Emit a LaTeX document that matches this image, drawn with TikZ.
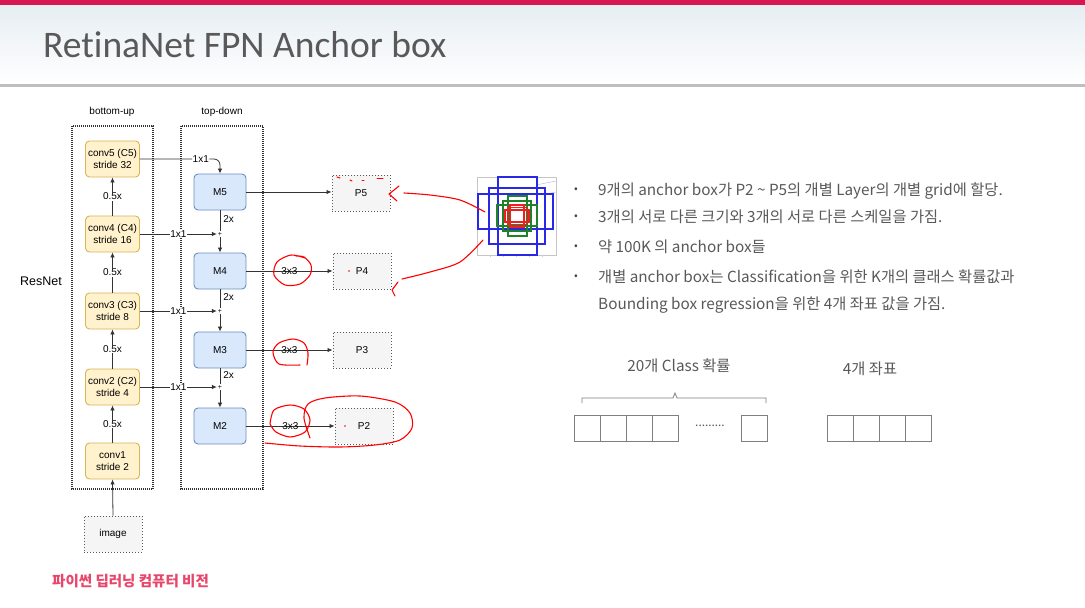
\documentclass[tikz,border=0pt]{standalone}
\usepackage{fontspec}
\setmainfont{Carlito}[Ligatures=CommonOff]
\newfontfamily\kr{Noto Sans CJK KR}
\newfontfamily\hv{Liberation Sans}
\usetikzlibrary{arrows.meta}
\definecolor{redbar}{RGB}{215,23,79}
\definecolor{hdrtop}{RGB}{230,238,242}
\definecolor{hline}{RGB}{191,191,191}
\definecolor{ttl}{RGB}{89,89,89}
\definecolor{cfill}{RGB}{255,242,204}
\definecolor{cdraw}{RGB}{214,182,86}
\definecolor{mfill}{RGB}{218,232,252}
\definecolor{mdraw}{RGB}{108,142,191}
\definecolor{pfill}{RGB}{245,245,245}
\definecolor{pdraw}{RGB}{90,90,90}
\definecolor{lnc}{RGB}{51,51,51}
\definecolor{pinkred}{RGB}{232,70,106}
\definecolor{sqc}{RGB}{127,127,127}
\definecolor{ablue}{RGB}{40,40,230}
\definecolor{agreen}{RGB}{30,130,40}
\definecolor{ared}{RGB}{240,30,30}
\begin{document}
\begin{tikzpicture}[x=1pt,y=-1pt,
  diag/.style={font=\hv\fontsize{10}{11.5}\selectfont},
  cbox/.style={diag,draw=cdraw,fill=cfill,rounded corners=4pt,line width=0.9pt,minimum width=54pt,minimum height=36pt,align=center,inner sep=1pt},
  mbox/.style={diag,draw=mdraw,fill=mfill,rounded corners=4pt,line width=0.9pt,minimum width=52pt,minimum height=36pt,inner sep=1pt},
  pbox/.style={diag,draw=pdraw,fill=pfill,dotted,line width=1pt,minimum width=58pt,minimum height=36pt,inner sep=1pt},
  grp/.style={draw=lnc,dash pattern=on 1pt off 1pt,line width=1.3pt},
  arr/.style={draw=lnc,line width=0.8pt,-{Latex[length=5pt,width=4.5pt]}},
  ln/.style={draw=lnc,line width=0.8pt},
  lbl/.style={diag,fill=white,inner sep=0.5pt},
  plus/.style={font=\hv\fontsize{7}{7}\selectfont,inner sep=0pt,minimum size=6pt},
  rd/.style={draw=red,line width=1.1pt,line cap=round,line join=round},
  krt/.style={font=\kr\fontsize{15.3}{18}\selectfont,text=ttl,anchor=base west,inner sep=0pt},
  sq/.style={draw=sqc,line width=1pt}
]
\useasboundingbox (0,0) rectangle (1085,608);
% header
\fill[white] (0,0) rectangle (1085,608);
\shade[top color=hdrtop,bottom color=white] (0,5) rectangle (1085,84);
\fill[redbar] (0,0) rectangle (1085,5);
\fill[hline] (0,84) rectangle (1085,87);
\node[anchor=base west,inner sep=0pt,text=ttl,font=\fontsize{37.5}{40}\selectfont] (title) at (43,57) {RetinaNet FPN Anchor box};

% group boxes
\draw[grp] (72,126) rectangle (153,489);
\draw[grp] (181,126) rectangle (263,489);
\node[diag] (bu) at (112,112) {bottom-up};
\node[diag] (td) at (222,112) {top-down};
\node[font=\hv\fontsize{12.5}{14}\selectfont] (resnet) at (41,281) {ResNet};

% bottom-up
\node[cbox] (c5) at (112.5,159) {conv5 (C5)\\stride 32};
\node[cbox] (c4) at (112.5,234) {conv4 (C4)\\stride 16};
\node[cbox] (c3) at (112.5,311) {conv3 (C3)\\stride 8};
\node[cbox] (c2) at (112.5,387) {conv2 (C2)\\stride 4};
\node[cbox] (c1) at (112.5,461) {conv1\\stride 2};
\node[pbox] (img) at (113,534) {image};
\draw[arr] (img.north) -- (c1.south);
\draw[arr] (c1.north) -- node[lbl]{0.5x} (c2.south);
\draw[arr] (c2.north) -- node[lbl]{0.5x} (c3.south);
\draw[arr] (c3.north) -- node[lbl]{0.5x} (c4.south);
\draw[arr] (c4.north) -- node[lbl]{0.5x} (c5.south);

% top-down
\node[mbox] (m5) at (220,192) {M5};
\node[mbox] (m4) at (220,271) {M4};
\node[mbox] (m3) at (220,350) {M3};
\node[mbox] (m2) at (220,426) {M2};
\node[plus] (q4) at (220,234) {+};
\node[plus] (q3) at (220,311) {+};
\node[plus] (q2) at (220,387) {+};

\draw[arr,rounded corners=6pt] (c5.east) -| node[lbl,pos=0.38]{1x1} (m5.north);
\draw[arr] (c4.east) -- node[lbl]{1x1} (q4.west);
\draw[arr] (c3.east) -- node[lbl]{1x1} (q3.west);
\draw[arr] (c2.east) -- node[lbl]{1x1} (q2.west);

\draw[ln] (m5.south) -- node[diag,right,pos=0.4,inner sep=3pt]{2x} (q4.north);
\draw[ln] (m4.south) -- node[diag,right,pos=0.4,inner sep=3pt]{2x} (q3.north);
\draw[ln] (m3.south) -- node[diag,right,pos=0.4,inner sep=3pt]{2x} (q2.north);
\draw[arr] (q4.south) -- (m4.north);
\draw[arr] (q3.south) -- (m3.north);
\draw[arr] (q2.south) -- (m2.north);

% P levels
\node[pbox] (p5) at (361,193) {P5};
\node[pbox] (p4) at (362,271) {P4};
\node[pbox] (p3) at (362,350) {P3};
\node[pbox] (p2) at (364,426) {P2};
\draw[arr] (m5.east) -- (m5.east -| p5.west);
\draw[arr] (m4.east) -- node[lbl,fill=none]{3x3} (m4.east -| p4.west);
\draw[arr] (m3.east) -- node[lbl,fill=none]{3x3} (m3.east -| p3.west);
\draw[arr] (m2.east) -- node[lbl,fill=none]{3x3} (m2.east -| p2.west);

% anchor box picture
\draw[gray!45,line width=0.6pt] (477,177) rectangle (556,255);
\foreach \xx in {490,503,516,529,542} \draw[gray!40,line width=0.5pt] (\xx,255) -- (\xx,257);
\draw[blue!25,line width=0.5pt] (536,185) -- (556,181);
\draw[blue!25,line width=0.5pt] (541,195) -- (556,192);
\draw[ablue,line width=1.2pt] (498,177) rectangle (537,255);
\draw[ablue,line width=1.2pt] (478,194) rectangle (553,229);
\draw[ablue,line width=1.2pt] (489,188) rectangle (545,244);
\draw[agreen,line width=1.2pt] (508,196) rectangle (527,236);
\draw[agreen,line width=1.2pt] (497,205) rectangle (537,226);
\draw[agreen,line width=1.2pt] (503,201) rectangle (531,231);
\draw[ared,line width=1.2pt] (510,205) rectangle (524,227);
\draw[ared,line width=1.2pt] (505,210) rectangle (529,222);
\draw[ared,line width=1.2pt] (507.5,207.5) rectangle (526.5,224.5);

% red annotations
\draw[rd] plot[smooth] coordinates {(305,258)(291,255)(277,262)(274,275)(285,285)(300,284)(310,275)(311,265)(304,257)(296,256)};
\draw[rd] plot[smooth] coordinates {(300,365)(279,364)(273,352)(279,343)(293,339)(304,343)(308,353)(307,365)};
\draw[rd] plot[smooth] coordinates {(270,424)(274,410)(290,405)(304,409)(310,420)(305,432)(290,437)(276,432)(270,424)};
\draw[rd] plot[smooth] coordinates {(265,443)(300,446)(340,447)(375,445)(400,440)(412,428)(410,413)(395,402)(360,396)(325,398)(308,404)(304,418)(310,438)};
\draw[rd] (399,186) -- (389,194) -- (397,201);
\draw[rd] plot[smooth] coordinates {(404,193)(430,195)(460,200)(485,212)};
\draw[rd] (398,282) -- (392,290) -- (395,296);
\draw[rd] plot[smooth] coordinates {(402,279)(430,272)(460,262)(483,240)};
\draw[rd,line width=1pt] (337,177) -- (340,178);
\draw[rd,line width=1pt] (350,180) -- (352,181);
\draw[rd,line width=1pt] (362,180) -- (364,180);
\draw[rd,line width=1pt] (377,178) -- (383,178);
\fill[red] (349,271) circle (0.8);
\fill[red] (345,426) circle (0.8);

% right text
\foreach \yy in {190,217,247,277} \node[text=ttl!80!black,font=\kr\fontsize{11}{12}\selectfont] at (576,\yy) {•};
\node[krt] (t1) at (598,195) {9개의 anchor box가 P2 \textasciitilde{} P5의 개별 Layer의 개별 grid에 할당.};
\node[krt] (t2) at (598,222) {3개의 서로 다른 크기와 3개의 서로 다른 스케일을 가짐.};
\node[krt] (t3) at (598,252) {약 100K 의 anchor box들};
\node[krt] (t4) at (598,282) {개별 anchor box는 Classification을 위한 K개의 클래스 확률값과};
\node[krt] (t5) at (598,309) {Bounding box regression을 위한 4개 좌표 값을 가짐.};

\node[krt,anchor=center] (cls) at (679,366) {20개 Class 확률};
\node[krt,anchor=center] (crd) at (870,369) {4개 좌표};
\draw[sqc,line width=0.8pt] (582,403) -- (582,398) -- (673,398) -- (675,393) -- (677,398) -- (766,398) -- (766,403);
\foreach \i in {0,1,2,3} \draw[sq] (574+26*\i,415) rectangle (600+26*\i,441);
\node[text=ttl,font=\fontsize{13}{13}\selectfont] (dots) at (710,426) {.........};
\draw[sq] (741,415) rectangle (767,441);
\foreach \i in {0,1,2,3} \draw[sq] (827+26*\i,415) rectangle (853+26*\i,441);

% footer
\node[anchor=base west,inner sep=0pt,text=pinkred,font=\kr\bfseries\fontsize{14.5}{16}\selectfont] (foot) at (52,586) {파이썬 딥러닝 컴퓨터 비전};
\end{tikzpicture}
\end{document}
